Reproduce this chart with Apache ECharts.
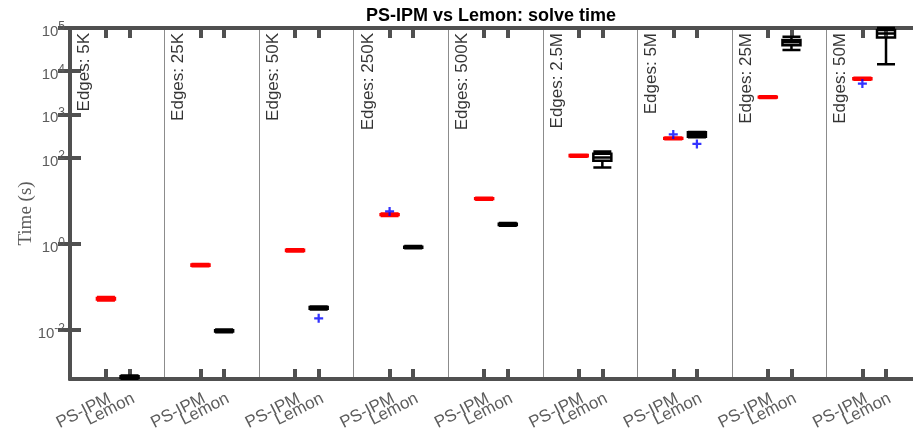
<!DOCTYPE html>
<html lang="en">
  <head>
    <meta charset="UTF-8" />
    <title>PS-IPM vs Lemon: solve time</title>
    <script src="https://cdn.jsdelivr.net/npm/echarts@6/dist/echarts.min.js"></script>
    <style>
      html, body { margin: 0; padding: 0; background: #fff; }
      #chart { width: 913px; height: 435px; }
    </style>
  </head>
  <body>
    <div id="chart"></div>
    <script>
      // groups (edge counts) and the two solvers
      const groups = ['5K', '25K', '50K', '250K', '500K', '2.5M', '5M', '25M', '50M']
      const solvers = ['PS-IPM', 'Lemon']
      const solverPos = [0.38, 0.63] // offset of each solver inside its group
      const solverColors = ['#ff0000', '#000000']

      // box stats per group, seconds: [min, Q1, median, Q3, max]
      const psipmBoxes = [
        [0.048, 0.051, 0.053, 0.055, 0.058],
        [0.30, 0.31, 0.32, 0.33, 0.34],
        [0.66, 0.68, 0.70, 0.72, 0.74],
        [4.4, 4.6, 4.7, 4.8, 5.0],
        [10.5, 10.8, 11, 11.3, 11.6],
        [104, 107, 110, 113, 116],
        [265, 272, 277, 282, 288],
        [2380, 2450, 2500, 2560, 2620],
        [6300, 6500, 6700, 6850, 7000]
      ]
      const lemonBoxes = [
        [0.00074, 0.00078, 0.00081, 0.00084, 0.00088],
        [0.0088, 0.0092, 0.0095, 0.0098, 0.0102],
        [0.030, 0.031, 0.0325, 0.034, 0.035],
        [0.78, 0.81, 0.83, 0.85, 0.88],
        [2.6, 2.7, 2.8, 2.9, 3.0],
        [58, 84, 100, 122, 138],
        [293, 300, 340, 383, 390],
        [31000, 40000, 47000, 53000, 63000],
        [14500, 60000, 75000, 90000, 100000]
      ]
      // outliers: [group index, value]
      const psipmOutliers = [[3, 5.6], [6, 340], [8, 5150]]
      const lemonOutliers = [[2, 0.0186], [6, 205]]

      const yTicks = [1e-2, 1, 1e2, 1e3, 1e4, 1e5]

      const psTicks = groups.map((g, i) => i + solverPos[0])
      const lemonTicks = groups.map((g, i) => i + solverPos[1])
      const xTicks = psTicks.concat(lemonTicks)

      const axisColor = '#505050'
      const labelColor = '#5c5c5c'
      const plus = 'path://M3,0h2v3h3v2h-3v3h-2v-3h-3v-2h3z'

      const boxData = (boxes, k) => boxes.map((b, i) => ({
        value: [i + solverPos[k]].concat(b),
        itemStyle: { borderColor: solverColors[k] }
      }))
      const outData = (list, k) => list.map(([i, v]) => [i + solverPos[k], v])

      const xLabel = (values, text) => ({
        customValues: values,
        rotate: 27,
        margin: 11,
        align: 'right',
        verticalAlign: 'top',
        fontFamily: 'Liberation Sans',
        fontSize: 17,
        color: labelColor,
        formatter: () => text
      })

      const chart = echarts.init(document.getElementById('chart'))
      chart.setOption({
        animation: false,
        backgroundColor: '#fff',
        title: {
          text: 'PS-IPM vs Lemon: solve time',
          left: 486,
          top: 2,
          textAlign: 'center',
          textStyle: { fontFamily: 'Liberation Sans', fontSize: 18, fontWeight: 'bold', color: '#000' }
        },
        grid: { left: 70, right: -8, top: 28, bottom: 56, outerBoundsMode: 'none', containLabel: false },
        xAxis: [
          {
            type: 'value', min: 0, max: 9, position: 'bottom',
            axisLine: { lineStyle: { color: axisColor, width: 4 } },
            axisTick: { inside: true, length: 10, customValues: xTicks, lineStyle: { color: axisColor, width: 4 } },
            axisLabel: xLabel(psTicks, solvers[0]),
            splitLine: { show: false }
          },
          {
            type: 'value', min: 0, max: 9, interval: 1, position: 'bottom',
            axisLine: { show: false }, axisTick: { show: false },
            axisLabel: xLabel(lemonTicks, solvers[1]),
            splitLine: { show: true, lineStyle: { color: '#8c8c8c', width: 1 } }
          },
          {
            type: 'value', min: 0, max: 9, position: 'top',
            axisLine: { lineStyle: { color: axisColor, width: 4 } },
            axisTick: { inside: true, length: 10, customValues: xTicks, lineStyle: { color: axisColor, width: 4 } },
            axisLabel: { show: false },
            splitLine: { show: false }
          }
        ],
        yAxis: [
          {
            type: 'log', min: 0.00073, max: 1e5, position: 'left',
            name: 'Time (s)',
            nameLocation: 'middle',
            nameGap: 34,
            nameMoveOverlap: false,
            nameTextStyle: { fontFamily: 'Liberation Serif', fontSize: 19, color: labelColor, padding: [0, 20, 0, 0] },
            axisLine: { lineStyle: { color: axisColor, width: 4 } },
            axisTick: { inside: true, length: 11, customValues: yTicks, lineStyle: { color: axisColor, width: 4 } },
            axisLabel: {
              customValues: yTicks,
              margin: 5,
              formatter: v => '{s| }\n{b|10}{e|' + Math.round(Math.log10(v)) + '}',
              rich: {
                s: { fontSize: 4, lineHeight: 4 },
                b: { fontFamily: 'Liberation Sans', fontSize: 15, color: labelColor, lineHeight: 15, verticalAlign: 'bottom' },
                e: { fontFamily: 'Liberation Sans', fontSize: 12, color: labelColor, verticalAlign: 'top', padding: [0, 0, 7, 0] }
              }
            },
            splitLine: { show: false }
          },
          {
            type: 'log', min: 0.00073, max: 1e5, position: 'right',
            axisLine: { lineStyle: { color: axisColor, width: 4 } },
            axisTick: { inside: true, length: 12, customValues: yTicks, lineStyle: { color: axisColor, width: 4 } },
            axisLabel: { show: false },
            splitLine: { show: false }
          }
        ],
        series: [
          {
            name: 'solve time',
            type: 'boxplot',
            xAxisIndex: 0, yAxisIndex: 0,
            boxWidth: [18, 18],
            itemStyle: { color: 'transparent', borderWidth: 2.5 },
            data: boxData(psipmBoxes, 0).concat(boxData(lemonBoxes, 1))
          },
          {
            name: 'outliers',
            type: 'scatter',
            xAxisIndex: 0, yAxisIndex: 0,
            symbol: plus,
            symbolSize: 9,
            itemStyle: { color: '#0000ff' },
            data: outData(psipmOutliers, 0).concat(outData(lemonOutliers, 1))
          },
          {
            name: 'edges',
            type: 'scatter',
            xAxisIndex: 0, yAxisIndex: 0,
            symbolSize: 0,
            silent: true,
            label: {
              show: true,
              position: 'bottom',
              distance: 5,
              rotate: 90,
              align: 'right',
              verticalAlign: 'middle',
              fontFamily: 'Liberation Sans',
              fontSize: 17,
              color: '#000',
              formatter: p => 'Edges: ' + groups[p.dataIndex]
            },
            data: groups.map((g, i) => [i + 0.15, 1e5])
          }
        ]
      })
    </script>
  </body>
</html>
